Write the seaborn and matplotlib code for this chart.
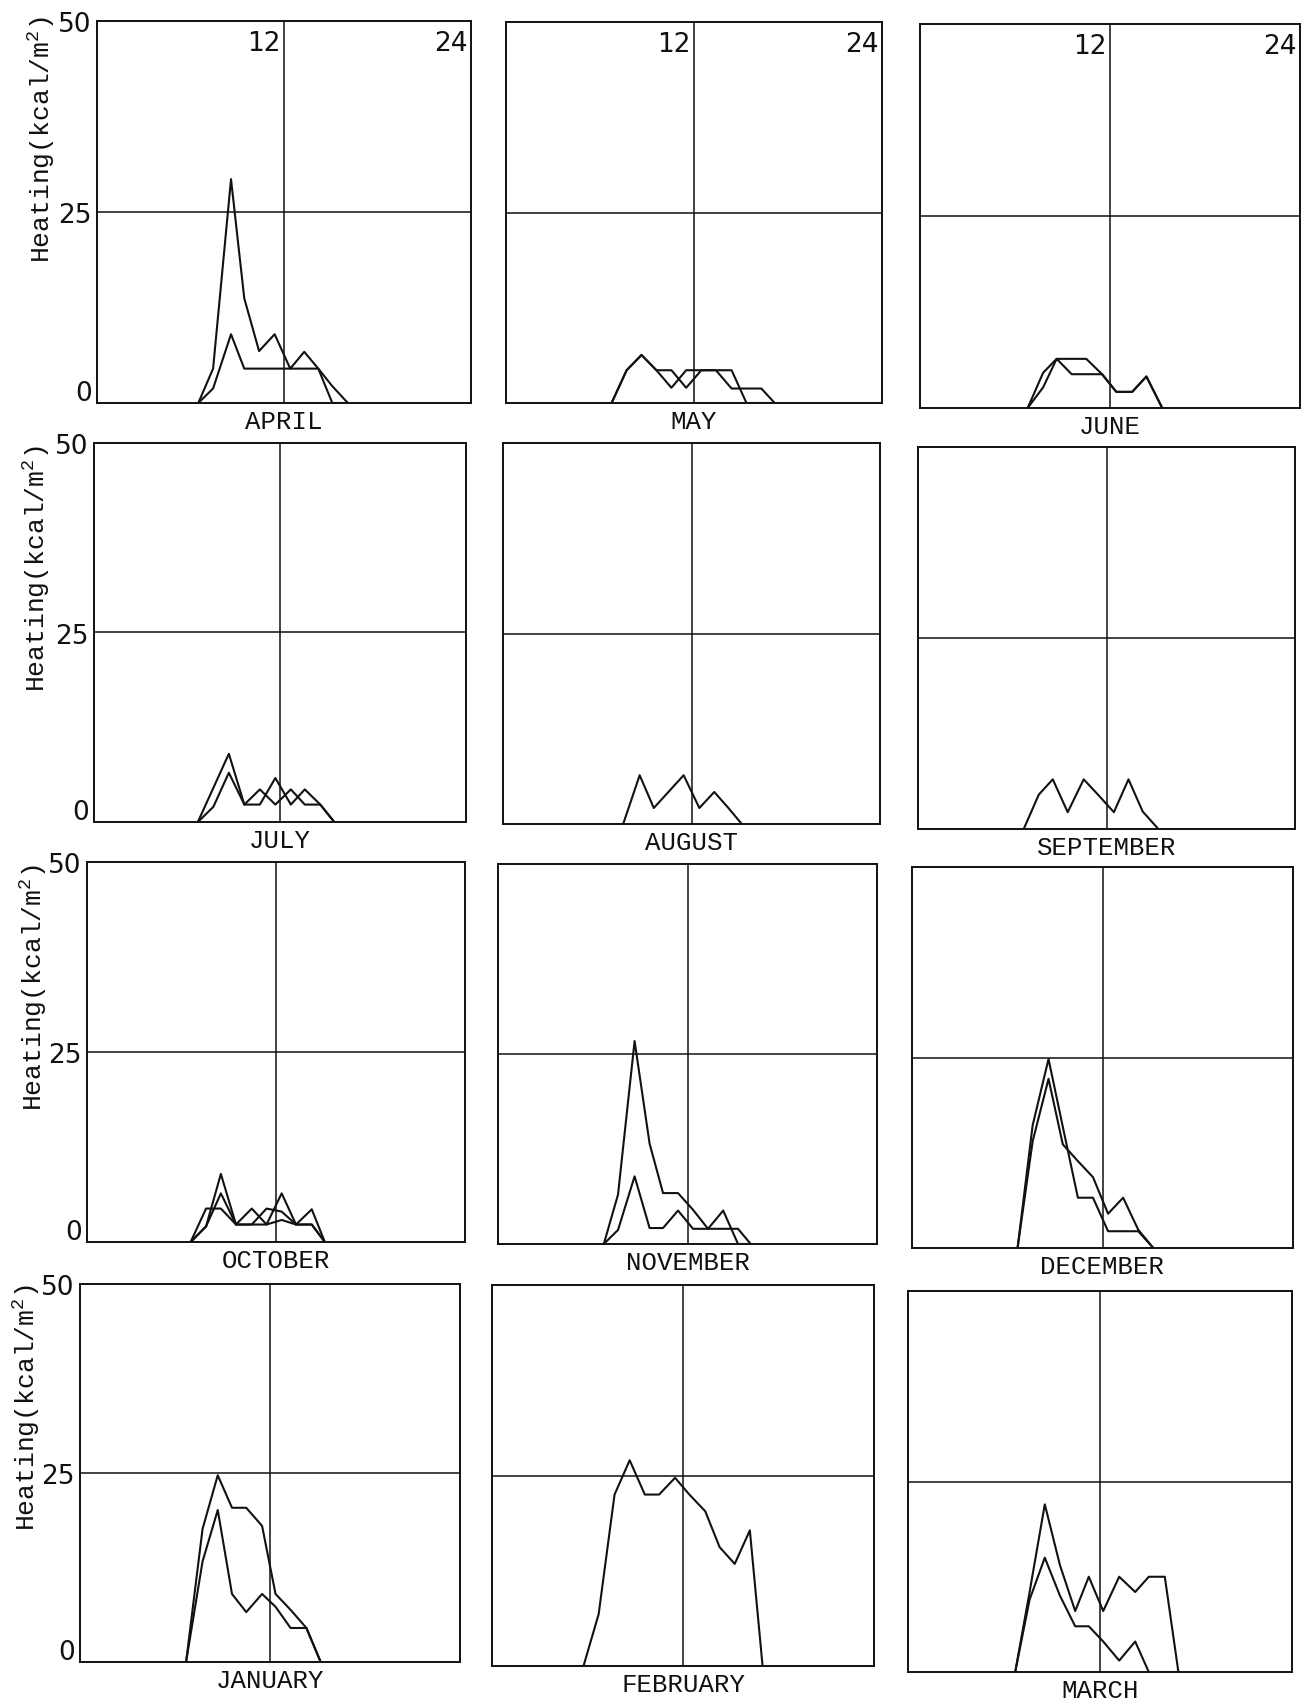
import matplotlib
matplotlib.use("Agg")
import matplotlib.pyplot as plt
from matplotlib import font_manager
import seaborn as sns
import pandas as pd

sns.set_theme(style="white")
plt.rcParams["font.family"] = ["Liberation Mono", "DejaVu Sans"]
plt.rcParams["mathtext.fontset"] = "custom"
plt.rcParams["mathtext.rm"] = "Liberation Mono"
plt.rcParams["mathtext.default"] = "rm"

# ---------------- data (hour of day, heating kcal/m2) ----------------
apr_hours = [6.5, 7.45, 8.6, 9.45, 10.4, 11.4, 12.4, 13.3, 14.2, 15.1, 16.1]
apr_a = [0, 4.5, 29.3, 13.7, 6.8, 9.0, 4.5, 6.7, 4.5, 2.2, 0]
apr_b = [0, 1.9, 9.0, 4.5, 4.5, 4.5, 4.5, 4.5, 4.5, 0, 0]

may_hours = [6.74, 7.7, 8.65, 9.6, 10.56, 11.5, 12.47, 13.4, 14.4, 15.35, 16.3, 17.15]
may_a = [0, 4.3, 6.3, 4.3, 2.0, 4.3, 4.3, 4.3, 1.9, 1.9, 1.9, 0]
may_b = [0, 4.3, 6.3, 4.3, 4.3, 2.0, 4.3, 4.3, 4.3, 0, 0, 0]

jun_hours = [6.8, 7.78, 8.63, 9.58, 10.5, 11.5, 12.4, 13.4, 14.3, 15.3]
jun_a = [0, 4.6, 6.4, 6.4, 6.4, 4.4, 2.1, 2.1, 4.1, 0]
jun_b = [0, 2.7, 6.4, 4.4, 4.4, 4.4, 2.1, 2.1, 4.1, 0]

jul_hours = [6.7, 7.7, 8.7, 9.7, 10.7, 11.7, 12.7, 13.6, 14.6, 15.5]
jul_a = [0, 4.5, 9.0, 2.3, 2.3, 5.8, 2.3, 4.3, 2.3, 0]
jul_b = [0, 2.0, 6.5, 2.3, 4.3, 2.3, 4.3, 2.3, 2.3, 0]

aug_hours = [7.65, 8.7, 9.6, 10.55, 11.5, 12.5, 13.45, 14.35, 15.2]
aug_a = [0, 6.4, 2.1, 4.25, 6.4, 2.1, 4.2, 2.1, 0]

sep_hours = [6.73, 7.69, 8.58, 9.53, 10.55, 11.5, 12.47, 13.4, 14.3, 15.3]
sep_a = [0, 4.5, 6.5, 2.2, 6.5, 4.4, 2.2, 6.5, 2.3, 0]

oct_hours = [6.58, 7.56, 8.5, 9.46, 10.46, 11.4, 12.36, 13.27, 14.27, 15.1]
oct_a = [0, 2.05, 8.95, 2.3, 4.4, 2.3, 6.4, 2.3, 4.3, 0]
oct_b = [0, 2.05, 6.4, 2.3, 2.3, 4.4, 4.0, 2.3, 2.3, 0]
oct_c = [0, 4.4, 4.4, 2.3, 2.3, 2.3, 2.9, 2.3, 2.3, 0]

nov_hours = [6.7, 7.6, 8.65, 9.6, 10.45, 11.4, 12.35, 13.3, 14.26, 15.2, 16.0]
nov_a = [0, 6.5, 26.7, 13.2, 6.7, 6.7, 4.5, 2.0, 4.4, 0, 0]
nov_b = [0, 1.85, 8.9, 2.1, 2.1, 4.4, 2.0, 2.0, 2.0, 2.0, 0]

dec_hours = [6.65, 7.6, 8.6, 9.5, 10.45, 11.4, 12.35, 13.3, 14.25, 15.2]
dec_a = [0, 16.1, 24.8, 15.9, 6.6, 6.6, 2.2, 2.2, 2.2, 0]
dec_b = [0, 14.0, 22.2, 13.6, 11.4, 9.3, 4.5, 6.6, 2.4, 0]

jan_hours = [6.7, 7.74, 8.7, 9.6, 10.5, 11.5, 12.35, 13.3, 14.3, 15.2]
jan_a = [0, 17.6, 24.7, 20.4, 20.4, 18.0, 9.0, 6.9, 4.5, 0]
jan_b = [0, 13.3, 20.1, 9.0, 6.6, 9.0, 7.3, 4.5, 4.5, 0]

feb_hours = [5.75, 6.7, 7.7, 8.65, 9.6, 10.5, 11.5, 12.4, 13.4, 14.3, 15.25, 16.2, 17.0]
feb_a = [0, 6.8, 22.5, 27.0, 22.5, 22.5, 24.7, 22.5, 20.3, 15.6, 13.4, 17.8, 0]

mar_hours = [6.7, 7.6, 8.55, 9.5, 10.45, 11.3, 12.2, 13.2, 14.2, 15.05, 16.05, 16.9]
mar_a = [0, 10.5, 22.0, 14.0, 8.0, 12.5, 8.0, 12.5, 10.5, 12.5, 12.5, 0]
mar_b = [0, 9.5, 15.0, 10.0, 6.0, 6.0, 4.0, 1.5, 4.0, 0, 0, 0]

month_names = ["APRIL", "MAY", "JUNE", "JULY", "AUGUST", "SEPTEMBER",
               "OCTOBER", "NOVEMBER", "DECEMBER", "JANUARY", "FEBRUARY", "MARCH"]
y_ticks = [0, 25, 50]
y_tick_labels = ["0", "25", "50"]
hour_marks = [12, 24]
y_label = r"Heating(kcal/$\mathrm{m}^2$)"

panels = [
    (apr_hours, [apr_a, apr_b]),
    (may_hours, [may_a, may_b]),
    (jun_hours, [jun_a, jun_b]),
    (jul_hours, [jul_a, jul_b]),
    (aug_hours, [aug_a]),
    (sep_hours, [sep_a]),
    (oct_hours, [oct_a, oct_b, oct_c]),
    (nov_hours, [nov_a, nov_b]),
    (dec_hours, [dec_a, dec_b]),
    (jan_hours, [jan_a, jan_b]),
    (feb_hours, [feb_a]),
    (mar_hours, [mar_a, mar_b]),
]

# ---------------- layout (pixel boxes: left, top, right, bottom) ----------------
W, H = 1305, 1702
boxes = [
    (97, 21, 471, 403), (506, 22, 882, 403), (920, 24, 1300, 408),
    (94, 443, 466, 822), (503, 443, 880, 824), (918, 447, 1295, 829),
    (87, 862, 465, 1242), (498, 864, 877, 1244), (912, 867, 1293, 1248),
    (80, 1284, 460, 1662), (492, 1285, 874, 1666), (908, 1291, 1292, 1672),
]
ylabel_pos = [(42, 16), (37, 445), (34, 864), (27, 1284)]  # (center x, top y) px

installed = {f.name for f in font_manager.fontManager.ttflist}
if "Liberation Sans Narrow" in installed:
    NUM_FONT, NUM_SIZE = "Liberation Sans Narrow", 23
else:
    NUM_FONT, NUM_SIZE = "DejaVu Sans", 19

INK = "#111111"
fig = plt.figure(figsize=(W / 100, H / 100), dpi=100)
fig.patch.set_facecolor("white")

for i, ((hours, series), (x0, y0, x1, y1)) in enumerate(zip(panels, boxes)):
    row, col = divmod(i, 3)
    ax = fig.add_axes([x0 / W, 1 - y1 / H, (x1 - x0) / W, (y1 - y0) / H])
    ax.set_facecolor("white")
    ax.axhline(25, color=INK, lw=1.1, zorder=1)
    ax.axvline(12, color=INK, lw=1.1, zorder=1)
    for s in series:
        df = pd.DataFrame({"hour": hours, "heat": s})
        sns.lineplot(data=df, x="hour", y="heat", ax=ax, color=INK, lw=1.5,
                     estimator=None, sort=False, zorder=3)
    ax.set_xlim(0, 24)
    ax.set_ylim(0, 50)
    ax.set_xticks([])
    ax.set_yticks([])
    for sp in ax.spines.values():
        sp.set_visible(True)
        sp.set_color(INK)
        sp.set_linewidth(1.4)
    ax.grid(False)
    ax.set_xlabel(month_names[i], fontsize=18.5, family="Liberation Mono",
                  color=INK, labelpad=5)
    if col == 0:
        ytr = ax.get_yaxis_transform()
        for v, lab in zip(y_ticks, y_tick_labels):
            if v == 0:
                ax.text(-0.014, v + 0.25, lab, transform=ytr, ha="right",
                        va="baseline", fontsize=NUM_SIZE, family=NUM_FONT, color=INK)
            else:
                ax.text(-0.014, v - 0.55, lab, transform=ytr, ha="right",
                        va="center", fontsize=NUM_SIZE, family=NUM_FONT, color=INK)
        ax.set_ylabel(y_label, fontsize=19, family="Liberation Mono", color=INK)
        cx, ty = ylabel_pos[row]
        ax.yaxis.set_label_coords((cx - x0) / (x1 - x0), 1 + (y0 - ty) / (y1 - y0))
        ax.yaxis.label.set_ha("right")
        ax.yaxis.label.set_va("center")
    else:
        ax.set_ylabel("")
    if row == 0:
        for hm in hour_marks:
            ax.text(hm - 0.2, 48.7, str(hm), ha="right", va="top", fontsize=NUM_SIZE,
                    family=NUM_FONT, color=INK)

fig.savefig("out.png", dpi=100, facecolor="white")
